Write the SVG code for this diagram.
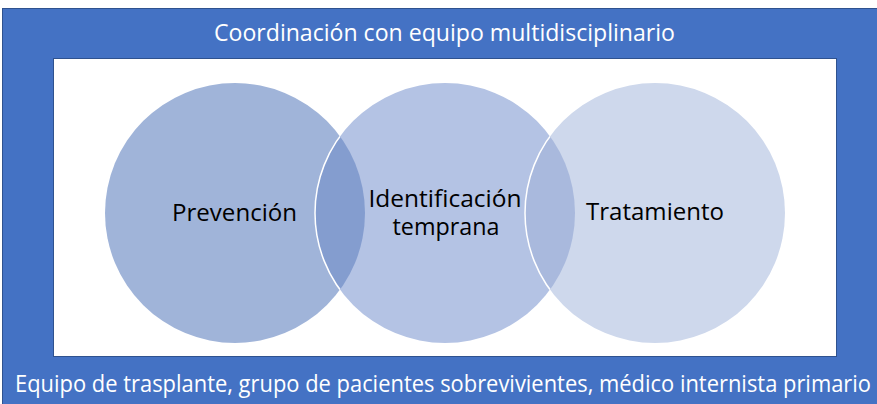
<svg xmlns="http://www.w3.org/2000/svg" width="877" height="404" viewBox="0 0 877 404">
<style>
.lbl{font-family:"Open Sans","Noto Sans","Liberation Sans",sans-serif;font-size:24px;fill:#000000}
.frm{font-family:"Open Sans","Noto Sans","Liberation Sans",sans-serif;font-size:23px;fill:#ffffff}
</style>
<defs>
<clipPath id="cL"><circle cx="235" cy="213" r="130"/></clipPath>
<clipPath id="cM"><circle cx="445" cy="213" r="130"/></clipPath>
</defs>
<g id="frame">
<rect x="2.5" y="8.5" width="880" height="400" fill="#4472C4" stroke="#2F528F" stroke-width="1"/>
<rect x="53.5" y="58.5" width="783" height="298" fill="#ffffff" stroke="#2F528F" stroke-width="1"/>
<text class="frm" x="444.5" y="41" text-anchor="middle" textLength="461" lengthAdjust="spacingAndGlyphs">Coordinación con equipo multidisciplinario</text>
<text class="frm" x="443" y="392" text-anchor="middle" textLength="856" lengthAdjust="spacingAndGlyphs">Equipo de trasplante, grupo de pacientes sobrevivientes, médico internista primario</text>
</g>
<g id="prevencion">
<circle cx="235" cy="213" r="130" fill="#A0B4D9"/>
</g>
<g id="identificacion">
<circle cx="445" cy="213" r="130" fill="#B4C3E4"/>
</g>
<g id="tratamiento">
<circle cx="655" cy="213" r="130" fill="#CED8EC"/>
</g>
<g id="overlaps">
<circle cx="445" cy="213" r="130" fill="#849DCF" clip-path="url(#cL)"/>
<circle cx="655" cy="213" r="130" fill="#A9B9DD" clip-path="url(#cM)"/>
<circle cx="445" cy="213" r="130" fill="none" stroke="#ffffff" stroke-width="1.5" clip-path="url(#cL)"/>
<circle cx="655" cy="213" r="130" fill="none" stroke="#ffffff" stroke-width="1.5" clip-path="url(#cM)"/>
</g>
<g id="labels">
<text class="lbl" x="234.5" y="221" text-anchor="middle" textLength="125" lengthAdjust="spacingAndGlyphs">Prevención</text>
<text class="lbl" x="445" y="207" text-anchor="middle" textLength="153" lengthAdjust="spacingAndGlyphs">Identificación</text>
<text class="lbl" x="446" y="235" text-anchor="middle" textLength="107" lengthAdjust="spacingAndGlyphs">temprana</text>
<text class="lbl" x="655" y="220" text-anchor="middle" textLength="138" lengthAdjust="spacingAndGlyphs">Tratamiento</text>
</g>
</svg>
